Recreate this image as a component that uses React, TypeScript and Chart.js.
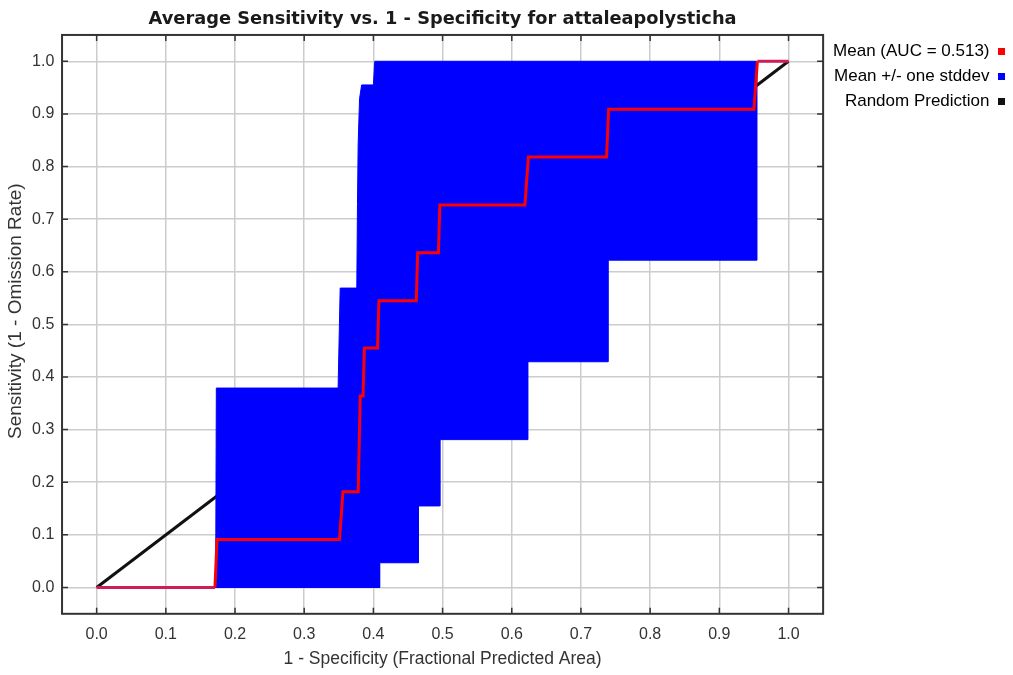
import { useEffect, useRef } from "react";
import { Chart, registerables } from "chart.js";

Chart.register(...registerables);

const TITLE = "Average Sensitivity vs. 1 - Specificity for attaleapolysticha";
const X_TITLE = "1 - Specificity (Fractional Predicted Area)";
const Y_TITLE = "     Sensitivity (1 - Omission Rate)";
const SERIES_NAMES = ["Mean (AUC = 0.513)", "Mean +/- one stddev", "Random Prediction"];
const SERIES_COLORS = ["#ff0000", "#0000ff", "#111111"];
const TICKS = [0, 0.1, 0.2, 0.3, 0.4, 0.5, 0.6, 0.7, 0.8, 0.9, 1.0];
const AXIS_MIN = -0.05;
const AXIS_MAX = 1.05;

// Mean ROC curve (red)
const MEAN_X = [0, 0.171, 0.174, 0.351, 0.356, 0.378, 0.381, 0.385, 0.387, 0.406, 0.408, 0.462, 0.464, 0.494, 0.496, 0.619, 0.624, 0.737, 0.740, 0.950, 0.955, 1.0];
const MEAN_Y = [0, 0, 0.091, 0.091, 0.182, 0.182, 0.364, 0.364, 0.455, 0.455, 0.545, 0.545, 0.636, 0.636, 0.727, 0.727, 0.818, 0.818, 0.909, 0.909, 1.0, 1.0];

// Mean + one stddev (upper edge of blue band), left to right
const UPPER_X = [0.172, 0.173, 0.349, 0.352, 0.376, 0.377, 0.378, 0.380, 0.383, 0.400, 0.402, 0.954];
const UPPER_Y = [0.0, 0.379, 0.379, 0.569, 0.569, 0.728, 0.843, 0.929, 0.955, 0.955, 1.0, 1.0];

// Mean - one stddev (lower edge of blue band), left to right
const LOWER_X = [0.170, 0.409, 0.409, 0.465, 0.465, 0.496, 0.496, 0.623, 0.623, 0.739, 0.739, 0.954];
const LOWER_Y = [0.0, 0.0, 0.047, 0.047, 0.155, 0.155, 0.281, 0.281, 0.429, 0.429, 0.622, 0.622];

// Random prediction diagonal
const RANDOM_X = [0, 1];
const RANDOM_Y = [0, 1];

const toPoints = (xs: number[], ys: number[]) => xs.map((x, i) => ({ x, y: ys[i] }));

const framePlugin = {
  id: "frameTicks",
  beforeDatasetsDraw(chart: any) {
    const { ctx, chartArea: a, scales } = chart;
    const xs = scales.x;
    const ys = scales.y;
    const L = 6;
    ctx.save();
    ctx.strokeStyle = "#333333";
    ctx.lineWidth = 1.5;
    ctx.beginPath();
    for (const v of TICKS) {
      const px = xs.getPixelForValue(v);
      ctx.moveTo(px, a.bottom);
      ctx.lineTo(px, a.bottom - L);
      ctx.moveTo(px, a.top);
      ctx.lineTo(px, a.top + L);
      const py = ys.getPixelForValue(v);
      ctx.moveTo(a.left, py);
      ctx.lineTo(a.left + L, py);
      ctx.moveTo(a.right, py);
      ctx.lineTo(a.right - L, py);
    }
    ctx.stroke();
    ctx.lineWidth = 2;
    ctx.strokeRect(a.left, a.top, a.right - a.left, a.bottom - a.top);
    ctx.restore();
  },
};

export default function App() {
  const canvasRef = useRef<HTMLCanvasElement | null>(null);

  useEffect(() => {
    const canvas = canvasRef.current;
    if (!canvas) return;
    Chart.defaults.font.family = "'Liberation Sans', Arial, sans-serif";
    Chart.defaults.color = "#333333";

    const band = [
      ...toPoints(UPPER_X, UPPER_Y),
      ...toPoints(LOWER_X, LOWER_Y).reverse(),
    ];

    const setTicks = (scale: any) => {
      scale.ticks = TICKS.map((v) => ({ value: v }));
    };

    const chart = new Chart(canvas, {
      type: "line",
      data: {
        datasets: [
          {
            label: SERIES_NAMES[0],
            data: toPoints(MEAN_X, MEAN_Y),
            borderColor: SERIES_COLORS[0],
            backgroundColor: SERIES_COLORS[0],
            borderWidth: 3,
            pointRadius: 0,
            fill: false,
            segment: {
              borderColor: (c: any) =>
                c.p0.parsed.y === c.p1.parsed.y && (c.p0.parsed.y === 0 || c.p0.parsed.y === 1)
                  ? "#cf1d5b"
                  : undefined,
            },
          },
          {
            label: SERIES_NAMES[1],
            data: band,
            borderColor: SERIES_COLORS[1],
            backgroundColor: SERIES_COLORS[1],
            borderWidth: 1,
            pointRadius: 0,
            fill: "shape",
          },
          {
            label: SERIES_NAMES[2],
            data: toPoints(RANDOM_X, RANDOM_Y),
            borderColor: SERIES_COLORS[2],
            backgroundColor: SERIES_COLORS[2],
            borderWidth: 3,
            pointRadius: 0,
            fill: false,
          },
        ],
      } as any,
      options: {
        animation: false,
        responsive: false,
        layout: { padding: 0 },
        plugins: {
          tooltip: { enabled: false },
          title: {
            display: true,
            text: TITLE,
            fullSize: false,
            color: "#1a1a1a",
            font: { family: "'DejaVu Sans', sans-serif", size: 17.8, weight: "bold", lineHeight: 1.2 },
            padding: { top: 8.5, bottom: 5.1 },
          },
          legend: {
            position: "right",
            align: "start",
            fullSize: false,
            rtl: true,
            textDirection: "ltr",
            labels: {
              boxWidth: 7,
              boxHeight: 7,
              padding: 8,
              color: "#333333",
              font: { size: 17 },
              generateLabels: () =>
                SERIES_NAMES.map((t, i) => ({
                  text: t,
                  fillStyle: SERIES_COLORS[i],
                  strokeStyle: SERIES_COLORS[i],
                  lineWidth: 0,
                  hidden: false,
                  datasetIndex: i,
                })),
            },
          },
        },
        scales: {
          x: {
            type: "linear",
            min: AXIS_MIN,
            max: AXIS_MAX,
            afterBuildTicks: setTicks,
            grid: { color: "#cccccc", lineWidth: 1.5, drawTicks: false },
            border: { display: false },
            ticks: {
              padding: 11,
              color: "#333333",
              font: { size: 16 },
              maxRotation: 0,
              autoSkip: false,
              callback: (v: any) => Number(v).toFixed(1),
            },
            title: {
              display: true,
              text: X_TITLE,
              color: "#333333",
              font: { size: 17.5 },
              padding: { top: -6.5, bottom: 5.5 },
            },
          },
          y: {
            type: "linear",
            min: AXIS_MIN,
            max: AXIS_MAX,
            afterBuildTicks: setTicks,
            grid: { color: "#cccccc", lineWidth: 1.5, drawTicks: false },
            border: { display: false },
            ticks: {
              padding: 7.7,
              color: "#333333",
              font: { size: 16 },
              autoSkip: false,
              callback: (v: any) => Number(v).toFixed(1),
            },
            title: {
              display: true,
              text: Y_TITLE,
              color: "#333333",
              font: { size: 19 },
              padding: { top: 4.5, bottom: -2.9 },
            },
          },
        },
      } as any,
      plugins: [framePlugin],
    });

    return () => chart.destroy();
  }, []);

  return (
    <canvas
      ref={canvasRef}
      width={1013}
      height={675}
      style={{ position: "absolute", left: 0, top: 0, display: "block" }}
    />
  );
}
